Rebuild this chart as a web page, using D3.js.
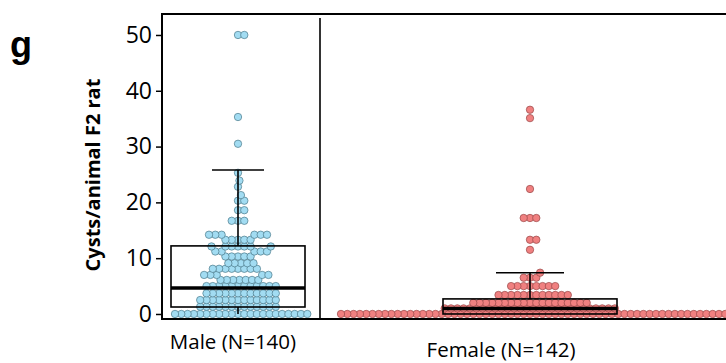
<!DOCTYPE html>
<html>
<head>
<meta charset="utf-8">
<script src="https://cdn.jsdelivr.net/npm/d3@7"></script>
<style>
  body { margin: 0; background: #fff; }
  text { font-family: "Open Sans", sans-serif; fill: #000; }
</style>
</head>
<body>
<svg id="chart" width="726" height="363"></svg>
<script>
const groups = ["Male (N=140)", "Female (N=142)"];

const maleValues = [
  0, 0, 0, 0, 0, 0, 0, 0, 0, 0, 0, 0, 0, 0, 0, 0, 0, 0, 0, 0, 0, 0,
  1.3, 1.3, 1.3, 1.3, 1.3, 1.3, 1.3, 1.3, 1.3, 1.3, 1.3, 1.3, 1.3,
  2.5, 2.5, 2.5, 2.5, 2.5, 2.5, 2.5, 2.5, 2.5, 2.5, 2.5, 2.5, 2.5,
  3.7, 3.7, 3.7, 3.7, 3.7, 3.7, 3.7, 3.7, 3.7, 3.7, 3.7, 3.7,
  5.0, 5.0, 5.0, 5.0, 5.0, 5.0, 5.0, 5.0, 5.0, 5.0, 5.0, 5.0,
  6.1, 6.1, 6.1, 6.1, 6.1, 6.1, 6.1,
  7.0, 7.0, 7.0, 7.0, 7.0,
  8.1, 8.1, 8.1, 8.1, 8.1, 8.1, 8.1, 8.1,
  9.1, 9.1, 9.1, 9.1, 9.1,
  10.3, 10.3, 10.3, 10.3, 10.3,
  11.2, 11.2, 11.2, 11.2, 11.2,
  12.1, 12.1, 12.1, 12.1, 12.1, 12.1, 12.1,
  13.3, 13.3, 13.3, 13.3, 13.3,
  14.2, 14.2, 14.2, 14.2, 14.2, 14.2,
  16.7, 16.7, 16.7,
  18.6, 18.6,
  20.3, 20.3,
  21.3, 22.8, 23.9, 25.3,
  30.5, 35.3, 50, 50
];

const femaleValues = [
  0, 0, 0, 0, 0, 0, 0, 0, 0, 0, 0, 0, 0, 0, 0, 0, 0, 0, 0, 0,
  0, 0, 0, 0, 0, 0, 0, 0, 0, 0, 0, 0, 0, 0, 0, 0, 0, 0, 0, 0,
  0, 0, 0, 0, 0, 0, 0, 0, 0, 0, 0, 0, 0, 0, 0, 0, 0, 0, 0, 0,
  0, 0,
  1.0, 1.0, 1.0, 1.0, 1.0, 1.0, 1.0, 1.0, 1.0, 1.0, 1.0, 1.0, 1.0, 1.0,
  1.0, 1.0, 1.0, 1.0, 1.0, 1.0, 1.0, 1.0, 1.0, 1.0, 1.0, 1.0, 1.0, 1.0,
  2.0, 2.0, 2.0, 2.0, 2.0, 2.0, 2.0, 2.0, 2.0, 2.0,
  2.0, 2.0, 2.0, 2.0, 2.0, 2.0, 2.0, 2.0, 2.0,
  3.4, 3.4, 3.4, 3.4, 3.4, 3.4, 3.4, 3.4, 3.4, 3.4, 3.4, 3.4,
  5.0, 5.0, 5.0, 5.0, 5.0, 5.0, 5.0, 5.0,
  6.5, 6.5, 6.5,
  7.4,
  11.5, 13.3, 13.3,
  17.2, 17.2, 17.2,
  22.4, 35.1, 36.6
];

// box summary: [male, female]
const q1 = [1.25, 0];
const medians = [4.66, 1.0];
const q3 = [12.2, 2.7];
const whiskerLow = [0, 0];
const whiskerHigh = [25.8, 7.4];

const yTicks = [0, 10, 20, 30, 40, 50];

const fills = ["#a2dcf2", "#f08080"];
const strokes = ["#4c7a8a", "#984848"];

const plotLeft = 162, plotTop = 14, plotRight = 744, plotBottom = 319, divider = 320;
const r = 3.7, gap = 6.3;
const boxHalf = [67, 87], capHalf = [26, 34];

const y = d3.scaleLinear().domain([-0.9, 53.76]).range([plotBottom, plotTop]);
const x = d3.scalePoint().domain(groups).range([238, 530]);

const svg = d3.select("#chart");

// simple swarm: keep y, push x out to the nearest free slot
function swarm(values) {
  const pts = values.map(v => ({ v: v, y: y(v) })).sort((a, b) => a.v - b.v);
  const placed = [];
  pts.forEach(p => {
    const near = placed.filter(q => Math.abs(q.y - p.y) < gap);
    const cands = [0];
    near.forEach(q => {
      const dx = Math.sqrt(gap * gap - (q.y - p.y) * (q.y - p.y));
      cands.push(q.dx + dx, q.dx - dx);
    });
    cands.sort((a, b) => Math.abs(a) - Math.abs(b) || b - a);
    for (const c of cands) {
      const ok = near.every(q => (q.dx - c) ** 2 + (q.y - p.y) ** 2 >= gap * gap - 0.01);
      if (ok) { p.dx = c; break; }
    }
    placed.push(p);
  });
  return placed;
}

[maleValues, femaleValues].forEach((vals, i) => {
  const cx = x(groups[i]);
  svg.append("g")
    .selectAll("circle")
    .data(swarm(vals))
    .enter()
    .append("circle")
    .attr("cx", d => cx + d.dx)
    .attr("cy", d => d.y)
    .attr("r", r)
    .attr("fill", fills[i])
    .attr("stroke", strokes[i])
    .attr("stroke-width", 0.7);
});

// boxes and whiskers
groups.forEach((g, i) => {
  const cx = x(g);
  const b = svg.append("g").attr("stroke", "#000").attr("fill", "none");
  b.append("line").attr("x1", cx).attr("x2", cx)
    .attr("y1", y(q3[i])).attr("y2", y(whiskerHigh[i])).attr("stroke-width", 1.6);
  b.append("line").attr("x1", cx).attr("x2", cx)
    .attr("y1", y(q1[i])).attr("y2", y(whiskerLow[i])).attr("stroke-width", 1.6);
  b.append("line").attr("x1", cx - capHalf[i]).attr("x2", cx + capHalf[i])
    .attr("y1", y(whiskerHigh[i])).attr("y2", y(whiskerHigh[i])).attr("stroke-width", 1.6);
  b.append("rect").attr("x", cx - boxHalf[i]).attr("width", boxHalf[i] * 2)
    .attr("y", y(q3[i])).attr("height", y(q1[i]) - y(q3[i])).attr("stroke-width", 1.6);
  b.append("line").attr("x1", cx - boxHalf[i]).attr("x2", cx + boxHalf[i])
    .attr("y1", y(medians[i])).attr("y2", y(medians[i])).attr("stroke-width", 3.5);
});

// frame and divider
svg.append("path")
  .attr("d", `M${plotRight},${plotTop}H${plotLeft}V${plotBottom}H${plotRight}`)
  .attr("fill", "none").attr("stroke", "#000").attr("stroke-width", 2);
svg.append("line")
  .attr("x1", divider).attr("x2", divider).attr("y1", plotTop + 4).attr("y2", plotBottom)
  .attr("stroke", "#000").attr("stroke-width", 1.6);

const yAxis = svg.append("g")
  .attr("transform", "translate(" + plotLeft + ",0)")
  .call(d3.axisLeft(y).tickValues(yTicks).tickSize(6).tickPadding(4));
yAxis.select(".domain").remove();
yAxis.selectAll(".tick line").attr("stroke-width", 1.5);
yAxis.selectAll(".tick text")
  .style("font-family", "'Open Sans', sans-serif")
  .style("font-size", "23px");

// category labels
svg.append("text")
  .attr("x", 233).attr("y", 349)
  .attr("text-anchor", "middle")
  .style("font-size", "20.5px")
  .text(groups[0]);
svg.append("text")
  .attr("x", 501).attr("y", 357)
  .attr("text-anchor", "middle")
  .style("font-size", "20.5px")
  .text(groups[1]);

svg.append("text")
  .attr("transform", "translate(100,175) rotate(-90)")
  .attr("text-anchor", "middle")
  .style("font-size", "20px")
  .style("font-weight", "bold")
  .text("Cysts/animal F2 rat");

svg.append("text")
  .attr("x", 10).attr("y", 57)
  .style("font-family", "'Liberation Sans', Arial, sans-serif")
  .style("font-size", "36px")
  .style("font-weight", "bold")
  .text("g");
</script>
</body>
</html>
